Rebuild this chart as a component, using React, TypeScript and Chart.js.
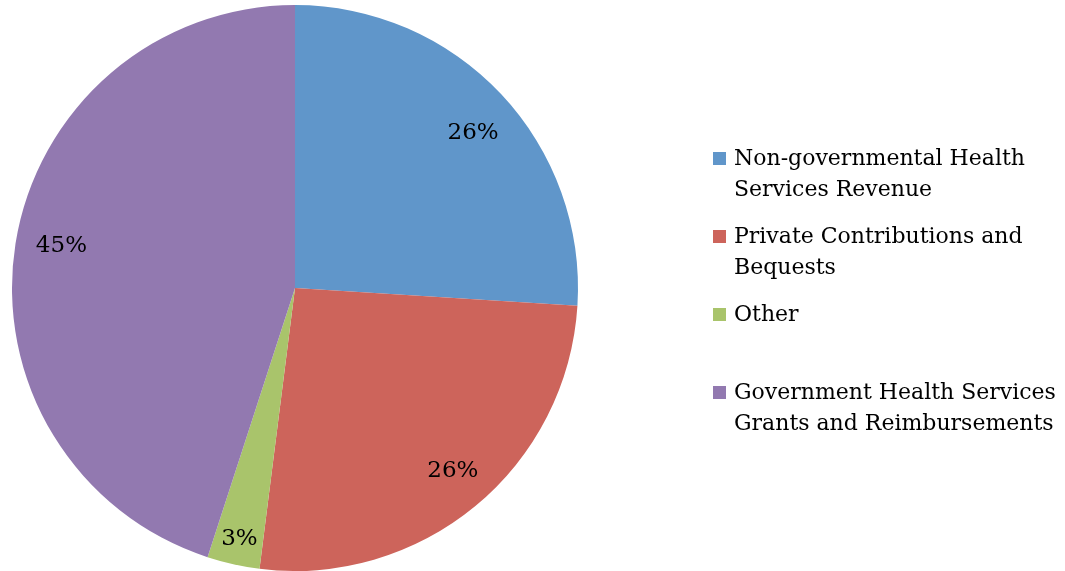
import React, { useEffect, useRef } from "react";
import { Chart, registerables } from "chart.js";

Chart.register(...registerables);

const categories: string[][] = [
  ["Non-governmental Health", "Services Revenue"],
  ["Private Contributions and", "Bequests"],
  ["Other"],
  ["Government Health Services", "Grants and Reimbursements"],
];
const values: number[] = [26, 26, 3, 45];
const percentLabels: string[] = ["26%", "26%", "3%", "45%"];
const colors: string[] = ["#6096CA", "#CD645B", "#A9C46B", "#9279B0"];

const FONT = "'DejaVu Serif', serif";

// small best-fit adjustments (angle offset in radians, radius fraction)
const labelTweaks = [
  { da: 0.03, f: 0.84 },
  { da: -0.025, f: 0.85 },
  { da: 0, f: 0.9 },
  { da: 0.03, f: 0.84 },
];

const labelPlugin = {
  id: "sliceLabels",
  afterDatasetsDraw(chart: any) {
    const ctx = chart.ctx;
    const meta = chart.getDatasetMeta(0);
    ctx.save();
    ctx.font = `23px ${FONT}`;
    ctx.fillStyle = "#000";
    ctx.textAlign = "center";
    ctx.textBaseline = "middle";
    meta.data.forEach((arc: any, i: number) => {
      const p = arc.getProps(["x", "y", "startAngle", "endAngle", "outerRadius"], true);
      const t = labelTweaks[i];
      const mid = (p.startAngle + p.endAngle) / 2 + t.da;
      const r = p.outerRadius * t.f;
      ctx.fillText(percentLabels[i], p.x + Math.cos(mid) * r, p.y + Math.sin(mid) * r + 2);
    });
    ctx.restore();
  },
};

const legendPlugin = {
  id: "customLegend",
  afterDraw(chart: any) {
    const ctx = chart.ctx;
    ctx.save();
    ctx.font = `22px ${FONT}`;
    ctx.textBaseline = "middle";
    ctx.textAlign = "left";
    const x0 = 713;
    const y0 = 159;
    const step = 78;
    const lineH = 31.5;
    categories.forEach((lines, i) => {
      const cy = y0 + i * step;
      ctx.fillStyle = colors[i];
      ctx.fillRect(x0, cy - 7, 13, 13);
      ctx.fillStyle = "#000";
      lines.forEach((t, j) => {
        ctx.fillText(t, x0 + 21, cy + j * lineH);
      });
    });
    ctx.restore();
  },
};

export default function App() {
  const ref = useRef<HTMLCanvasElement | null>(null);
  useEffect(() => {
    document.body.style.margin = "0";
    if (!ref.current) return;
    const chart = new Chart(ref.current, {
      type: "pie",
      data: {
        labels: categories.map((c) => c.join(" ")),
        datasets: [
          {
            data: values,
            backgroundColor: colors,
            borderWidth: 0,
          },
        ],
      },
      options: {
        animation: false,
        responsive: false,
        layout: { padding: { left: 0, right: 475, top: 5, bottom: 0 } },
        plugins: {
          legend: { display: false },
          tooltip: { enabled: false },
        },
      },
      plugins: [labelPlugin, legendPlugin],
    });
    return () => chart.destroy();
  }, []);
  return (
    <div style={{ width: 1065, height: 571, background: "#fff" }}>
      <canvas ref={ref} width={1065} height={571} style={{ display: "block" }} />
    </div>
  );
}
